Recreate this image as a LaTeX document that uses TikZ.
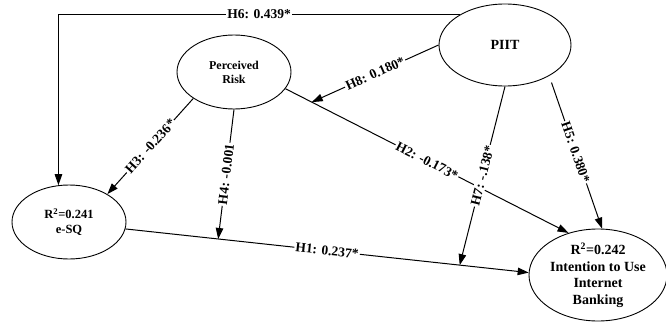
\documentclass[tikz,border=0pt]{standalone}
\usepackage{fontspec}
\setmainfont{Liberation Serif}
\usetikzlibrary{shapes.geometric,arrows.meta}
\begin{document}
\begin{tikzpicture}[x=1pt,y=-1pt,
  construct/.style={draw, ellipse, line width=0.9pt, inner sep=0pt, align=center},
  link/.style={draw, line width=1pt, -{Triangle[length=11pt,width=7.5pt]}},
  coef/.style={fill=white, inner sep=1.2pt, font=\fontsize{13.5}{15}\selectfont\bfseries}
]
\useasboundingbox (0,0) rectangle (666,321);

% constructs
\node[construct, minimum width=132pt, minimum height=82pt,
      font=\fontsize{14}{16}\selectfont\bfseries] (piit) at (505,45) {PIIT};
\node[construct, minimum width=114pt, minimum height=74pt,
      font=\fontsize{12}{14}\selectfont\bfseries] (risk) at (234,72) {Perceived\\Risk};
\node[construct, minimum width=114pt, minimum height=74pt,
      font=\fontsize{12.5}{15}\selectfont\bfseries] (esq) at (69,222) {R\textsuperscript{2}=0.241\\e-SQ};
\node[construct, minimum width=138pt, minimum height=92pt,
      font=\fontsize{14}{16.5}\selectfont\bfseries] (itu) at (598,275)
      {R\textsuperscript{2}=0.242\\Intention to Use\\Internet\\Banking};

% direct paths
\draw[link] (esq.-7) -- (itu.178)
  coordinate[pos=0.23] (h4tip) coordinate[pos=0.829] (h7tip)
  node[coef, midway, sloped] {H1: 0.237*};
\draw[link] (risk.-18) -- (itu.125)
  coordinate[pos=0.093] (h8tip)
  node[coef, midway, sloped] {H2: -0.173*};
\draw[link] (risk.213) -- (esq.36) node[coef, midway, sloped] {H3: -0.236*};
\draw[link, shorten <=7pt] (piit.-35.4) -- (itu.85) node[coef, midway, sloped] {H5: 0.380*};
\draw[link] (piit.146) -| (esq.106.6) node[coef, pos=0.25] {H6: 0.439*};

% moderating paths
\draw[link] (risk.south) -- (h4tip) node[coef, midway, sloped] {H4: -0.001};
\draw[link] (piit.south) -- (h7tip) node[coef, midway, sloped] {H7: -.138*};
\draw[link] (piit.west) -- (h8tip) node[coef, midway, sloped] {H8: 0.180*};
\end{tikzpicture}
\end{document}
